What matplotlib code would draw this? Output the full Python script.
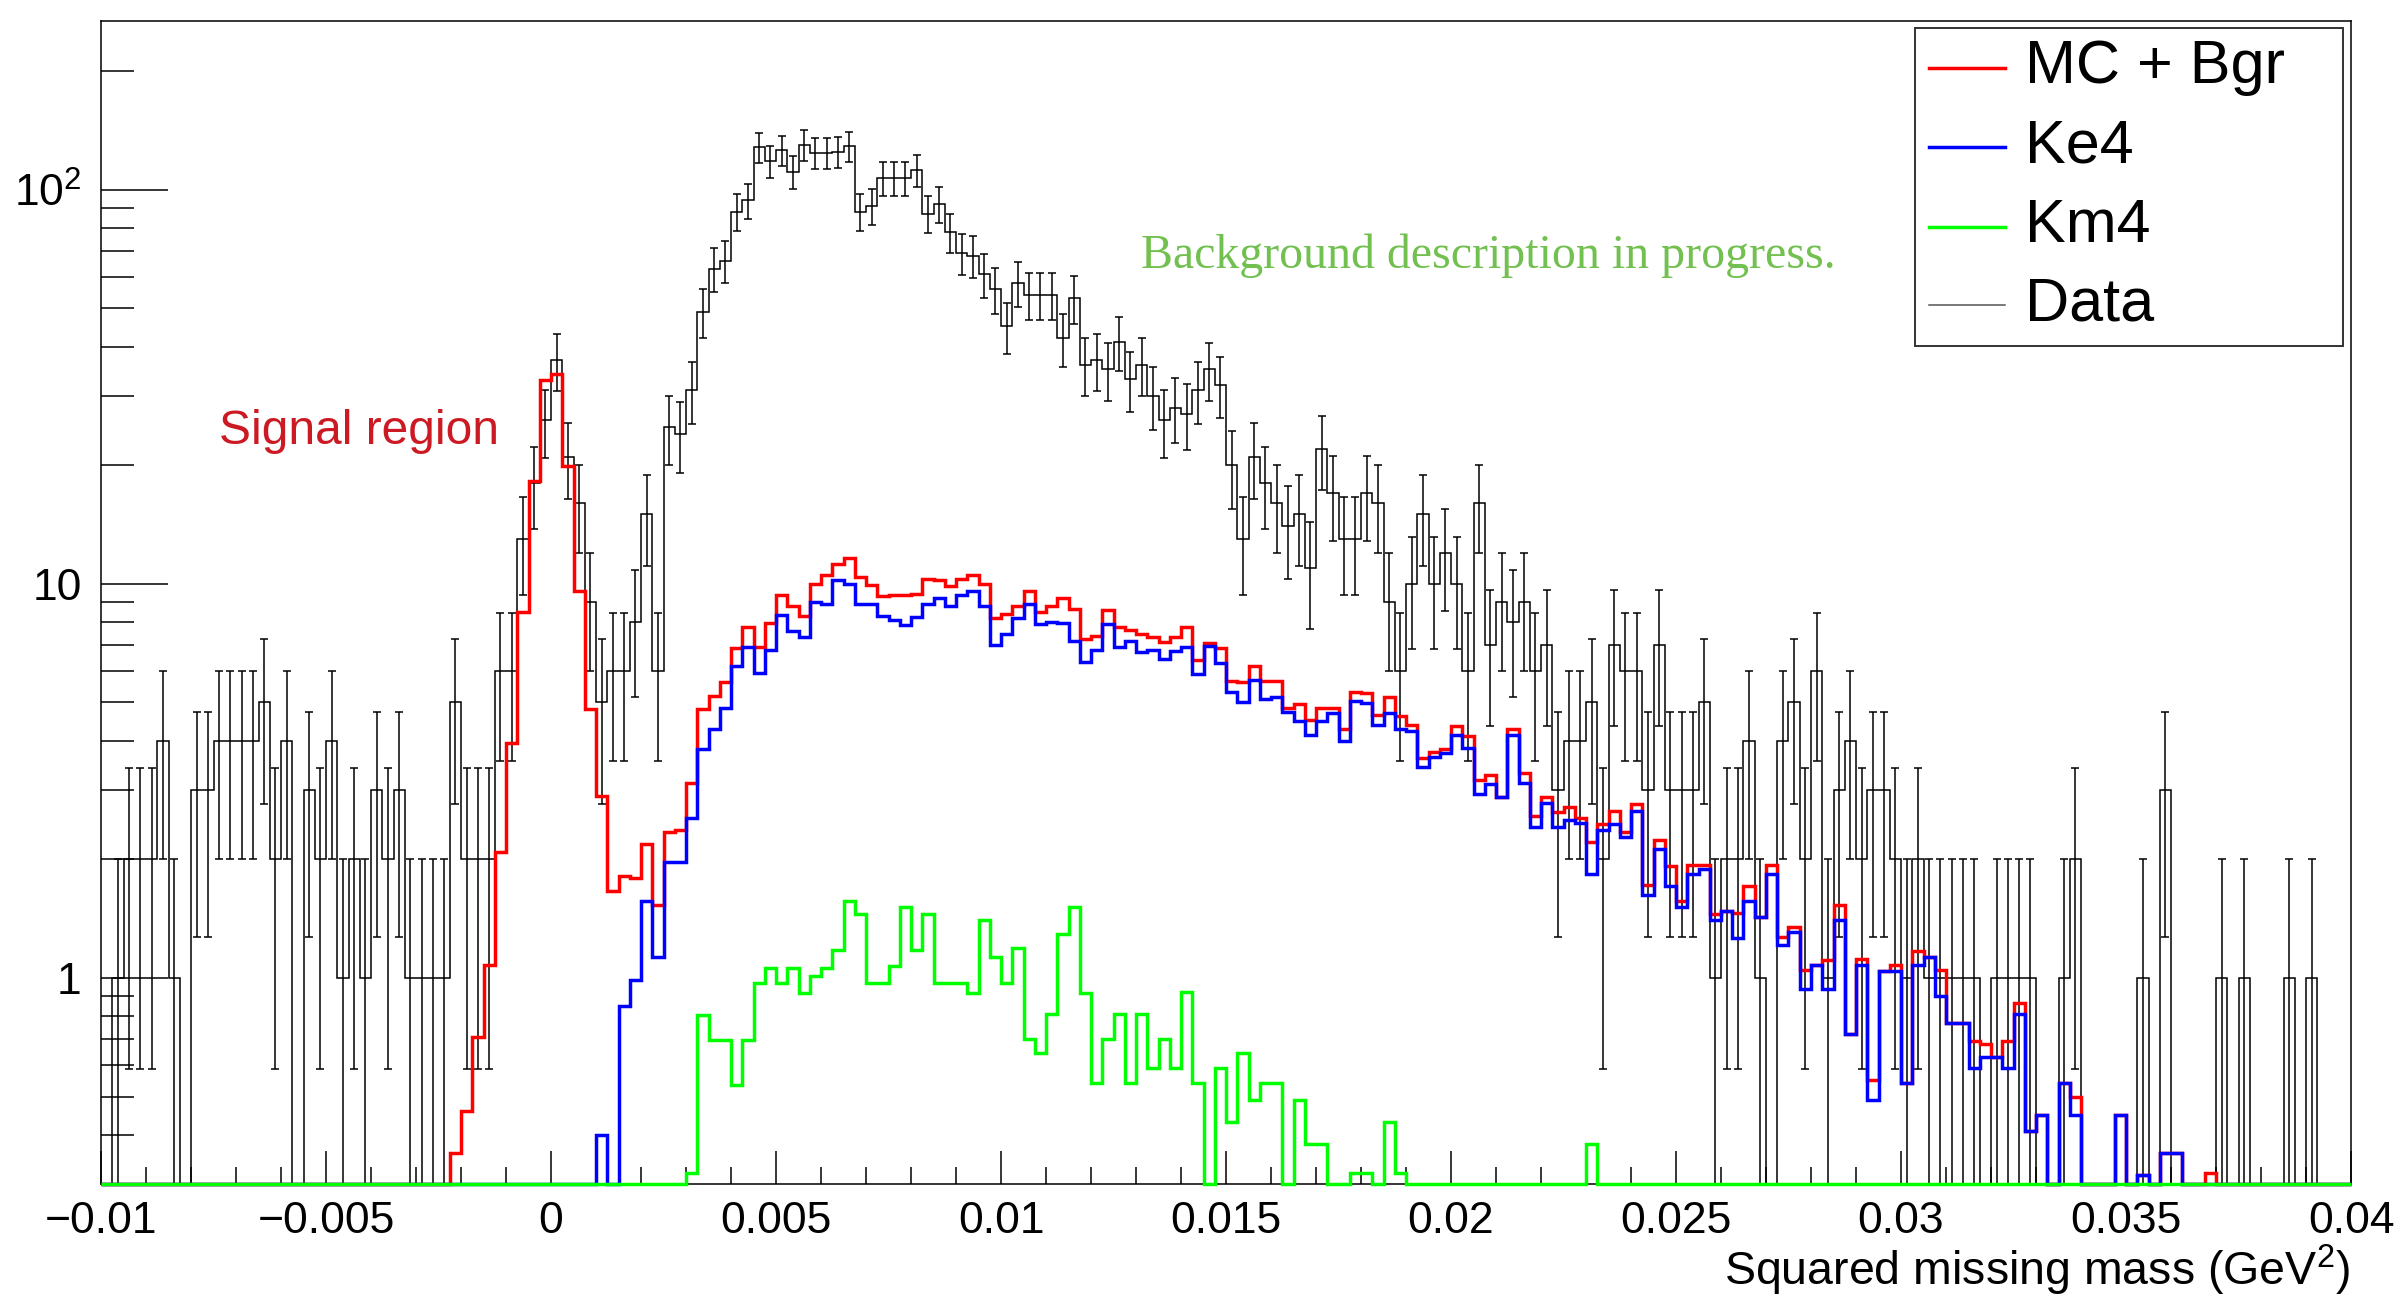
import numpy as np
import matplotlib
matplotlib.use('Agg')
import matplotlib.pyplot as plt
from matplotlib.patches import Rectangle
from matplotlib.lines import Line2D
from matplotlib.ticker import FixedLocator, LogLocator, NullFormatter

plt.rcParams['font.family'] = ['Liberation Sans', 'DejaVu Sans']
plt.rcParams['mathtext.fontset'] = 'custom'
plt.rcParams['mathtext.rm'] = 'Liberation Sans'
plt.rcParams['mathtext.it'] = 'Liberation Sans:italic'
plt.rcParams['mathtext.bf'] = 'Liberation Sans:bold'

# ---------------- data (200 bins from -0.01 to 0.04) ----------------
x_min, x_max, n_bins = -0.01, 0.04, 200

data_counts = [
    0, 1, 2, 2, 2, 4, 1, 0, 3, 3,            # 0-9
    4, 4, 4, 4, 5, 2, 4, 0, 3, 2,            # 10-19
    4, 1, 2, 1, 3, 2, 3, 1, 1, 1,            # 20-29
    1, 5, 2, 2, 2, 6, 6, 13, 18, 26,         # 30-39
    37, 21, 16, 9, 5, 6, 6, 8, 15, 6,        # 40-49
    25, 24, 31, 49, 63, 66, 88, 94, 128, 118,  # 50-59
    126, 111, 130, 124, 124, 125, 129, 88, 91, 107,  # 60-69
    107, 107, 112, 87, 92, 78, 69, 68, 61, 56,  # 70-79
    45, 58, 54, 54, 54, 42, 53, 36, 37, 35,  # 80-89
    41, 33, 36, 30, 26, 28, 27, 31, 35, 32,  # 90-99
    20, 13, 21, 18, 16, 14, 15, 11, 22, 17,  # 100-109
    13, 13, 17, 16, 9, 6, 10, 15, 10, 12,    # 110-119
    10, 6, 16, 7, 9, 8, 9, 6, 7, 3,          # 120-129
    4, 4, 5, 2, 7, 6, 6, 3, 7, 3,            # 130-139
    3, 3, 5, 1, 2, 2, 4, 1, 0, 4,            # 140-149
    5, 2, 6, 1, 3, 4, 2, 3, 3, 2,            # 150-159
    1, 2, 1, 1, 1, 1, 1, 0, 1, 1,            # 160-169
    1, 1, 0, 0, 1, 2, 0, 0, 0, 0,            # 170-179
    0, 1, 0, 3, 0, 0, 0, 0, 1, 0,            # 180-189
    1, 0, 0, 0, 1, 0, 1, 0, 0, 0,            # 190-199
]

mc_bgr = [
    0, 0, 0, 0, 0, 0, 0, 0, 0, 0,
    0, 0, 0, 0, 0, 0, 0, 0, 0, 0,
    0, 0, 0, 0, 0, 0, 0, 0, 0, 0,
    0, 0.36, 0.46, 0.71, 1.08, 2.09, 3.95, 8.48, 18.2, 32.9,
    34.0, 19.9, 9.6, 4.8, 2.9, 1.66, 1.81, 1.79, 2.19, 1.53,
    2.35, 2.37, 3.13, 4.80, 5.18, 5.64, 6.86, 7.76, 6.93, 7.96,
    9.39, 8.78, 8.3, 10.0, 10.5, 11.2, 11.6, 10.4, 9.93, 9.29,
    9.39, 9.39, 9.45, 10.3, 10.2, 9.87, 10.3, 10.5, 10.0, 8.2,
    8.39, 8.78, 9.6, 8.48, 8.77, 9.19, 8.63, 7.25, 7.38, 8.58,
    7.76, 7.62, 7.45, 7.33, 7.12, 7.33, 7.79, 6.41, 7.06, 6.86,
    5.67, 5.64, 6.2, 5.67, 5.67, 4.83, 4.96, 4.51, 4.83, 4.83,
    4.29, 5.3, 5.27, 4.66, 5.16, 4.61, 4.38, 3.62, 3.75, 3.81,
    4.35, 4.1, 3.17, 3.27, 2.87, 4.29, 3.31, 2.58, 2.87, 2.63,
    2.71, 2.54, 2.21, 2.46, 2.65, 2.34, 2.77, 1.72, 2.24, 1.92,
    1.57, 1.94, 1.94, 1.45, 1.48, 1.46, 1.71, 1.43, 1.94, 1.27,
    1.35, 1.05, 1.08, 1.11, 1.53, 0.72, 1.12, 0.55, 1.04, 1.08,
    0.54, 1.17, 1.13, 1.05, 0.77, 0.77, 0.69, 0.68, 0.63, 0.69,
    0.865, 0.41, 0.45, 0, 0.54, 0.50, 0, 0, 0, 0.45,
    0, 0.316, 0, 0.36, 0.36, 0, 0, 0.32, 0, 0,
    0, 0, 0, 0, 0, 0, 0, 0, 0, 0,
]

ke4 = [
    0, 0, 0, 0, 0, 0, 0, 0, 0, 0,
    0, 0, 0, 0, 0, 0, 0, 0, 0, 0,
    0, 0, 0, 0, 0, 0, 0, 0, 0, 0,
    0, 0, 0, 0, 0, 0, 0, 0, 0, 0,
    0, 0, 0, 0, 0.40, 0, 0.85, 0.99, 1.57, 1.13,
    1.97, 1.97, 2.54, 3.81, 4.29, 4.83, 6.17, 6.93, 5.93, 6.78,
    8.33, 7.58, 7.33, 8.97, 8.9, 10.2, 10.0, 8.87, 8.87, 8.29,
    8.1, 7.84, 8.26, 8.87, 9.19, 8.78, 9.39, 9.6, 8.78, 7.01,
    7.45, 8.2, 8.87, 7.89, 8.02, 7.96, 7.17, 6.34, 6.81, 7.89,
    6.93, 7.17, 6.7, 6.81, 6.44, 6.75, 6.93, 5.9, 6.96, 6.29,
    5.3, 5.0, 5.69, 5.09, 5.16, 4.74, 4.48, 4.14, 4.48, 4.69,
    4.0, 5.05, 4.98, 4.38, 4.69, 4.29, 4.22, 3.43, 3.64, 3.72,
    4.13, 3.83, 2.93, 3.1, 2.87, 4.14, 3.13, 2.41, 2.78, 2.41,
    2.51, 2.47, 1.84, 2.38, 2.46, 2.28, 2.65, 1.62, 2.12, 1.71,
    1.51, 1.84, 1.89, 1.40, 1.48, 1.26, 1.57, 1.43, 1.84, 1.21,
    1.31, 0.935, 1.077, 0.935, 1.40, 0.72, 1.077, 0.49, 1.04, 1.04,
    0.54, 1.08, 1.13, 0.90, 0.77, 0.77, 0.59, 0.63, 0.63, 0.59,
    0.81, 0.41, 0.45, 0, 0.54, 0.45, 0, 0, 0, 0.45,
    0, 0.316, 0, 0.36, 0.36, 0, 0, 0, 0, 0,
    0, 0, 0, 0, 0, 0, 0, 0, 0, 0,
]

km4 = [
    0, 0, 0, 0, 0, 0, 0, 0, 0, 0,
    0, 0, 0, 0, 0, 0, 0, 0, 0, 0,
    0, 0, 0, 0, 0, 0, 0, 0, 0, 0,
    0, 0, 0, 0, 0, 0, 0, 0, 0, 0,
    0, 0, 0, 0, 0, 0, 0, 0, 0, 0,
    0, 0, 0.32, 0.805, 0.696, 0.696, 0.535, 0.696, 0.968, 1.06,
    0.968, 1.06, 0.915, 1.01, 1.06, 1.18, 1.57, 1.45, 0.968, 0.968,
    1.07, 1.51, 1.18, 1.45, 0.968, 0.968, 0.968, 0.915, 1.40, 1.13,
    0.968, 1.19, 0.70, 0.644, 0.81, 1.29, 1.51, 0.915, 0.54, 0.70,
    0.81, 0.54, 0.81, 0.59, 0.70, 0.59, 0.92, 0.54, 0, 0.59,
    0.43, 0.644, 0.49, 0.54, 0.54, 0, 0.49, 0.38, 0.38, 0,
    0, 0.32, 0.32, 0, 0.43, 0.32, 0, 0, 0, 0,
    0, 0, 0, 0, 0, 0, 0, 0, 0, 0,
    0, 0, 0.38, 0, 0, 0, 0, 0, 0, 0,
    0, 0, 0, 0, 0, 0, 0, 0, 0, 0,
    0, 0, 0, 0, 0, 0, 0, 0, 0, 0,
    0, 0, 0, 0, 0, 0, 0, 0, 0, 0,
    0, 0, 0, 0, 0, 0, 0, 0, 0, 0,
    0, 0, 0, 0, 0, 0, 0, 0, 0, 0,
    0, 0, 0, 0, 0, 0, 0, 0, 0, 0,
]

x_major_ticks = [-0.01, -0.005, 0.0, 0.005, 0.01, 0.015, 0.02, 0.025, 0.03, 0.035, 0.04]
x_major_labels = ['\u22120.01', '\u22120.005', '0', '0.005', '0.01', '0.015',
                  '0.02', '0.025', '0.03', '0.035', '0.04']
y_major_ticks = [1, 10, 100]
y_major_labels = ['1', '10', '$10^{2}$']
legend_labels = ['MC + Bgr', 'Ke4', 'Km4', 'Data']

# ---------------- figure ----------------
W, H = 2401, 1294
fig = plt.figure(figsize=(W / 100, H / 100), dpi=100)
fig.patch.set_facecolor('white')

ax_l, ax_r, ax_t, ax_b = 101, 2351, 21, 1184
ax = fig.add_axes([ax_l / W, 1 - ax_b / H, (ax_r - ax_l) / W, (ax_b - ax_t) / H])

y_min, y_max = 0.3, 268.0
edges = np.linspace(x_min, x_max, n_bins + 1)
centers = 0.5 * (edges[:-1] + edges[1:])

d = np.array(data_counts, dtype=float)
red = np.array(mc_bgr, dtype=float)
blue = np.array(ke4, dtype=float)
green = np.array(km4, dtype=float)

# data: step outline + Poisson error bars
ax.stairs(np.maximum(d, y_min), edges, baseline=None, color='black', linewidth=1.1,
          zorder=2, clip_on=False)
m = d > 0
err_up = np.sqrt(d[m])
low_val = d[m] - np.sqrt(d[m])
low_val = np.where(low_val > 0, low_val, 1e-3)
err_lo = d[m] - low_val
ax.errorbar(centers[m], d[m], yerr=[err_lo, err_up], fmt='none', ecolor='black',
            elinewidth=1.1, capsize=2.6, capthick=1.1, zorder=2)

ax.stairs(np.maximum(red, y_min), edges, baseline=None, color='#ff0000', linewidth=2.5,
          zorder=3, clip_on=False)
ax.stairs(np.maximum(blue, y_min), edges, baseline=None, color='#0000ff', linewidth=2.5,
          zorder=4, clip_on=False)
ax.stairs(np.maximum(green, y_min), edges, baseline=None, color='#00ff00', linewidth=2.5,
          zorder=5, clip_on=False)

ax.set_xlim(x_min, x_max)
ax.set_yscale('log')
ax.set_ylim(y_min, y_max)

ax.xaxis.set_major_locator(FixedLocator(x_major_ticks))
ax.set_xticklabels(x_major_labels)
ax.xaxis.set_minor_locator(FixedLocator(np.round(np.arange(-0.01, 0.0401, 0.001), 4)))
ax.yaxis.set_major_locator(FixedLocator(y_major_ticks))
ax.set_yticklabels(y_major_labels)
ax.yaxis.set_minor_locator(LogLocator(base=10, subs=np.arange(2, 10)))
ax.yaxis.set_minor_formatter(NullFormatter())

ax.tick_params(axis='both', which='both', direction='in', top=False, right=False,
               color='black', width=1.1, labelsize=32)
ax.tick_params(axis='x', which='major', length=24, pad=12)
ax.tick_params(axis='x', which='minor', length=12)
ax.tick_params(axis='y', which='major', length=48, pad=14)
ax.tick_params(axis='y', which='minor', length=24)
for sp in ax.spines.values():
    sp.set_linewidth(1.1)

# axis title (ROOT style: right aligned under the axis)
fig.text(2350 / W, 1 - 1270 / H, 'Squared missing mass (GeV$^{2}$)', ha='right', va='center',
         fontsize=33.5)

# annotations
fig.text(219 / W, 1 - 432 / H, 'Signal region', ha='left', va='center', fontsize=34.5,
         color='#cc1a24')
fig.text(1141 / W, 1 - 256 / H, 'Background description in progress.', ha='left', va='center',
         fontsize=34.5, color='#72c04f', family=['Liberation Serif', 'DejaVu Serif'])

# legend (drawn manually to mimic the ROOT TLegend)
lx0, lx1, ly0, ly1 = 1915, 2343, 28, 346
fig.add_artist(Rectangle((lx0 / W, 1 - ly1 / H), (lx1 - lx0) / W, (ly1 - ly0) / H,
                         transform=fig.transFigure, facecolor='white', edgecolor='#333333',
                         linewidth=1.4, zorder=10))
rows = [68, 147, 227, 305]
leg_colors = ['#ff0000', '#0000ff', '#00ff00', '#555555']
leg_widths = [2.5, 2.5, 2.5, 1.1]
for yy, lab, c, lw in zip(rows, legend_labels, leg_colors, leg_widths):
    fig.add_artist(Line2D([1929 / W, 2005 / W], [1 - yy / H, 1 - yy / H],
                          transform=fig.transFigure, color=c, linewidth=lw, zorder=11))
    fig.text(2025 / W, 1 - yy / H, lab, ha='left', va='center', fontsize=44, zorder=11)

fig.savefig('out.png', dpi=100)
